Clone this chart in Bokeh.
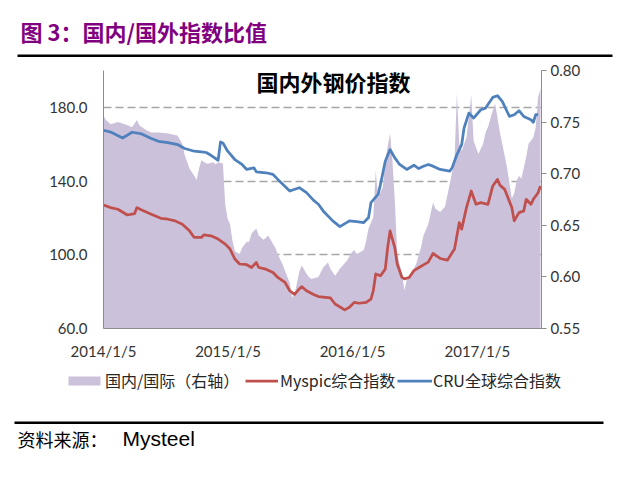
import numpy as np
import pandas as pd
from bokeh.plotting import figure
from bokeh.layouts import column
from bokeh.models import (Range1d, LinearAxis, FixedTicker, NumeralTickFormatter, Label,
                          Legend, LegendItem, BoxAnnotation, ColumnDataSource)
from bokeh.embed import file_html
from bokeh.resources import INLINE

START = pd.Timestamp("2014-01-05")

# 国内/国际 (right axis) — week index since 2014/1/5, ratio value
ratio_week = [0, 1, 3, 6, 9, 12, 14, 15, 18, 20, 23, 27, 31, 33, 34, 36, 38, 39, 40, 41, 43, 44, 46, 47, 48,
              50, 51, 52, 53, 54, 55, 57, 58, 60, 61, 62, 64, 65, 67, 68, 69, 71, 72, 73, 75, 76, 78, 79, 80,
              82, 83, 85, 86, 87, 90, 92, 94, 95, 97, 99, 102, 104, 105, 106, 109, 110, 111, 113, 114, 115,
              116, 117, 118, 120, 121, 122, 123, 125, 126, 127, 129, 131, 133, 134, 136, 138, 139, 141, 143,
              145, 147, 148, 149, 150, 152, 154, 155, 157, 159, 160, 161, 163, 164, 166, 167, 169, 171, 172,
              173, 174, 175, 177, 178, 180, 181, 182, 183]
ratio_value = [0.756, 0.752, 0.748, 0.750, 0.748, 0.745, 0.752, 0.747, 0.742, 0.740, 0.740, 0.739, 0.737,
               0.729, 0.718, 0.705, 0.698, 0.694, 0.705, 0.713, 0.710, 0.710, 0.711, 0.709, 0.711,
               0.710, 0.670, 0.656, 0.651, 0.635, 0.625, 0.622, 0.628, 0.634, 0.634, 0.642, 0.647, 0.640,
               0.636, 0.638, 0.640, 0.632, 0.628, 0.622, 0.612, 0.606, 0.594, 0.580, 0.583,
               0.605, 0.611, 0.603, 0.600, 0.598, 0.600, 0.609, 0.614, 0.608, 0.601, 0.608, 0.616, 0.624,
               0.626, 0.622, 0.626, 0.635, 0.647, 0.658, 0.703, 0.677,
               0.682, 0.687, 0.713, 0.739, 0.713, 0.674, 0.622, 0.603, 0.587, 0.597, 0.603, 0.613, 0.629,
               0.640, 0.651, 0.672, 0.666, 0.663, 0.668,
               0.690, 0.713, 0.778, 0.729, 0.722, 0.735, 0.776, 0.732, 0.719, 0.729, 0.740, 0.745, 0.761,
               0.768, 0.740, 0.729, 0.706, 0.676, 0.681,
               0.693, 0.698, 0.695, 0.716, 0.729, 0.735, 0.745, 0.774, 0.782]

# Myspic综合指数 (left axis)
myspic_week = [0, 3, 6, 10, 13, 14, 16, 20, 24, 27, 30, 33, 36, 38, 41, 42, 45, 48, 51, 53, 55, 57, 60, 62,
               64, 65, 68, 71, 73, 76, 78, 80, 82, 83, 85, 88, 90, 92, 95, 97, 101, 103, 105, 107, 110, 112,
               113, 114, 116, 118, 119, 120, 122, 123, 125, 126, 128, 130, 132, 134, 136, 138, 141, 144, 147,
               149, 150, 152, 154, 156, 158, 161, 163, 165, 166, 168, 171, 172, 174, 176, 177, 179, 180, 182, 183]
myspic_value = [127.0, 125.6, 124.7, 121.6, 122.3, 125.6, 124.3, 122.0, 119.8, 119.3, 118.4, 116.6, 113.0,
                109.4, 109.4, 110.8, 110.3, 108.5, 105.8, 103.1, 97.7, 95.0, 94.6, 93.1,
                95.8, 93.1, 92.2, 90.4, 87.7, 85.0, 80.5, 78.5, 81.5, 82.7, 80.5, 78.5, 77.3, 77.0, 76.6,
                73.3, 70.1, 71.5, 74.2, 73.7, 74.2, 76.0,
                80.5, 89.6, 88.6, 92.2, 103.9, 113.0, 103.9, 95.0, 87.7, 86.9, 87.7, 91.4, 93.0, 94.5, 96.0,
                100.7, 98.0, 97.1, 103.1,
                117.5, 113.9, 125.6, 134.6, 127.4, 128.3, 127.4, 137.3, 140.9, 137.8, 135.5, 125.6, 118.4,
                122.9, 123.8, 130.1, 127.4, 130.1, 133.7, 137.3]

# CRU全球综合指数 (left axis)
cru_week = [0, 3, 8, 12, 16, 20, 23, 27, 31, 34, 38, 41, 43, 45, 48, 49, 50, 52, 55, 58, 60, 63, 64, 68, 71,
            73, 78, 82, 85, 88, 90, 92, 96, 99, 103, 106, 109, 111, 112, 115, 116, 118, 120, 122, 124, 127,
            130, 132, 134, 136, 138, 141, 145, 146, 148, 150, 151, 153, 155, 158, 160, 163, 165, 167, 170,
            172, 174, 176, 179, 180, 181, 182]
cru_value = [167.6, 166.6, 163.4, 166.5, 165.6, 163.1, 161.6, 160.9, 159.8, 157.7, 156.2, 155.8, 155.5,
             154.0, 151.3, 161.2, 160.7, 156.2, 151.7, 149.0, 146.3, 147.2, 145.0, 144.5, 143.6,
             140.9, 134.6, 136.4, 133.7, 129.5, 127.4, 123.8, 118.4, 115.3, 118.4, 118.0, 117.5, 120.2,
             128.3, 132.8, 138.2, 150.8, 157.1, 152.6, 149.0, 146.3,
             148.6, 146.8, 148.0, 149.0, 148.1, 146.3, 145.4, 147.2, 154.4, 159.8, 168.8, 176.9, 174.2,
             178.7, 179.6, 185.4, 186.3, 183.2, 175.1,
             176.0, 178.2, 175.1, 173.3, 171.9, 176.0, 176.0]

tick_dates = ["2014-01-05", "2015-01-05", "2016-01-05", "2017-01-05"]
tick_labels = ["2014/1/5", "2015/1/5", "2016/1/5", "2017/1/5"]
left_ticks = [60, 100, 140, 180]
grid_ticks = [100, 140, 180]
right_ticks = [0.55, 0.60, 0.65, 0.70, 0.75, 0.80]

AREA_COLOR = "#CCC1DA"
RED = "#C0504D"
BLUE = "#4F81BD"
AXIS_GRAY = "#8C8C8C"
TICK_FONT = "Lato"
CJK = "Noto Sans CJK SC"

W = 636
HEADER_H = 60          # canvas rows 0..60
MAIN_H = 305           # canvas rows 60..365
FOOTER_H = 503 - HEADER_H - MAIN_H   # 365..503


def to_dates(weeks):
    return START + pd.to_timedelta(np.array(weeks) * 7, unit="D")


ratio_src = ColumnDataSource(dict(x=to_dates(ratio_week), y=ratio_value))
myspic_src = ColumnDataSource(dict(x=to_dates(myspic_week), y=myspic_value))
cru_src = ColumnDataSource(dict(x=to_dates(cru_week), y=cru_value))


def blank_fig(height, y_top):
    f = figure(width=W, height=height, output_backend="svg", toolbar_location=None,
               x_range=Range1d(0, W), y_range=Range1d(y_top + height, y_top),
               x_axis_type=None, y_axis_type=None, min_border=0,
               background_fill_color="white", border_fill_color="white")
    f.outline_line_color = None
    f.grid.visible = False
    f.frame_align = False
    return f


# ---------------- header ----------------
hdr = blank_fig(HEADER_H, 0)
hdr.add_layout(Label(x=20, y=30, text="图 3：国内/国外指数比值", text_font=CJK, text_font_size="22px",
                     text_font_style="bold", text_align="left", text_baseline="middle",
                     text_color="#800080"))
hdr.add_layout(BoxAnnotation(left=17, right=612, top=54, bottom=56.5, fill_color="black",
                             fill_alpha=1.0, line_color=None))

# ---------------- main chart ----------------
p = figure(width=W, height=MAIN_H, x_axis_type="datetime", output_backend="svg", toolbar_location=None,
           x_range=Range1d(START, START + pd.Timedelta(days=1284)), y_range=Range1d(60, 200),
           min_border_left=103, min_border_right=95, min_border_top=10, min_border_bottom=37,
           background_fill_color="white", border_fill_color="white")
p.frame_align = False
p.outline_line_color = None
p.extra_y_ranges = {"ratio": Range1d(0.55, 0.80)}

p.varea(x="x", y1=0.55, y2="y", source=ratio_src, y_range_name="ratio",
        fill_color=AREA_COLOR, fill_alpha=1.0)
p.line(x="x", y="y", source=myspic_src, line_color=RED, line_width=2.75, line_join="round")
p.line(x="x", y="y", source=cru_src, line_color=BLUE, line_width=2.75, line_join="round")

ya = p.yaxis[0]
ya.ticker = FixedTicker(ticks=left_ticks)
ya.formatter = NumeralTickFormatter(format="0.0")
ya.major_tick_out = 0
ya.major_tick_in = 0
ya.minor_tick_out = 0
ya.minor_tick_in = 0
ya.axis_line_color = AXIS_GRAY
ya.major_label_standoff = 16
ya.major_label_text_font = TICK_FONT
ya.major_label_text_font_size = "15px"
ya.major_label_text_color = "#333333"

ra = LinearAxis(y_range_name="ratio", ticker=FixedTicker(ticks=right_ticks),
                formatter=NumeralTickFormatter(format="0.00"))
ra.major_tick_out = 5
ra.major_tick_in = 0
ra.minor_tick_out = 0
ra.minor_tick_in = 0
ra.axis_line_color = AXIS_GRAY
ra.major_tick_line_color = AXIS_GRAY
ra.major_label_standoff = 4
ra.major_label_text_font = TICK_FONT
ra.major_label_text_font_size = "15px"
ra.major_label_text_color = "#333333"
p.add_layout(ra, "right")

xa = p.xaxis[0]
tick_ms = [int(pd.Timestamp(d).value // 10**6) for d in tick_dates]
xa.ticker = FixedTicker(ticks=tick_ms)
xa.major_label_overrides = {t: lab for t, lab in zip(tick_ms, tick_labels)}
xa.major_tick_out = 0
xa.major_tick_in = 0
xa.minor_tick_out = 0
xa.minor_tick_in = 0
xa.axis_line_color = AXIS_GRAY
xa.major_label_standoff = 13
xa.major_label_text_font = TICK_FONT
xa.major_label_text_font_size = "15px"
xa.major_label_text_color = "#333333"

p.xgrid.visible = False
p.ygrid.ticker = FixedTicker(ticks=grid_ticks)
p.ygrid.grid_line_color = "#A6A6A6"
p.ygrid.grid_line_dash = "8 4"
p.ygrid.grid_line_width = 1.3

# chart title inside the plot area (frame top-left = canvas (103, 70), bottom = 328)
p.add_layout(Label(x=230, y=248, x_units="screen", y_units="screen", text="国内外钢价指数",
                   text_font=CJK, text_font_size="22px", text_font_style="bold",
                   text_align="center", text_baseline="middle", text_color="#000000"))

# ---------------- footer: legend + source ----------------
ftr = blank_fig(FOOTER_H, HEADER_H + MAIN_H)
# legend keys share the chart's data sources (drawn off-view in this panel)
leg_area = ftr.varea(x="x", y1=0.55, y2="y", source=ratio_src, fill_color=AREA_COLOR, fill_alpha=1.0)
leg_red = ftr.line(x="x", y="y", source=myspic_src, line_color=RED, line_width=2.75)
leg_blue = ftr.line(x="x", y="y", source=cru_src, line_color=BLUE, line_width=2.75)


def add_legend(renderer, label, gx, gw, standoff):
    lg = Legend(items=[LegendItem(label=label, renderers=[renderer])],
                location=(gx, 503 - 392), orientation="horizontal",
                glyph_width=gw, glyph_height=11, label_height=11, label_standoff=standoff,
                padding=0, margin=0, spacing=0, border_line_color=None, background_fill_alpha=0,
                label_text_font=CJK, label_text_font_size="16px", label_text_color="#262626")
    ftr.add_layout(lg)


add_legend(leg_area, "国内/国际（右轴）", 64, 40, 1)
add_legend(leg_red, "Myspic综合指数", 245, 33, 2)
add_legend(leg_blue, "CRU全球综合指数", 397, 35, 1)

ftr.add_layout(BoxAnnotation(left=14, right=603, top=421, bottom=423.5, fill_color="black",
                             fill_alpha=1.0, line_color=None))
ftr.add_layout(Label(x=17, y=438, text="资料来源：", text_font=CJK, text_font_size="18px",
                     text_align="left", text_baseline="middle", text_color="#000000"))
ftr.add_layout(Label(x=122, y=438, text="Mysteel", text_font="Liberation Sans", text_font_size="21px",
                     text_align="left", text_baseline="middle", text_color="#000000"))

layout = column(hdr, p, ftr, spacing=0)
open("out.html", "w").write(file_html(layout, INLINE))
